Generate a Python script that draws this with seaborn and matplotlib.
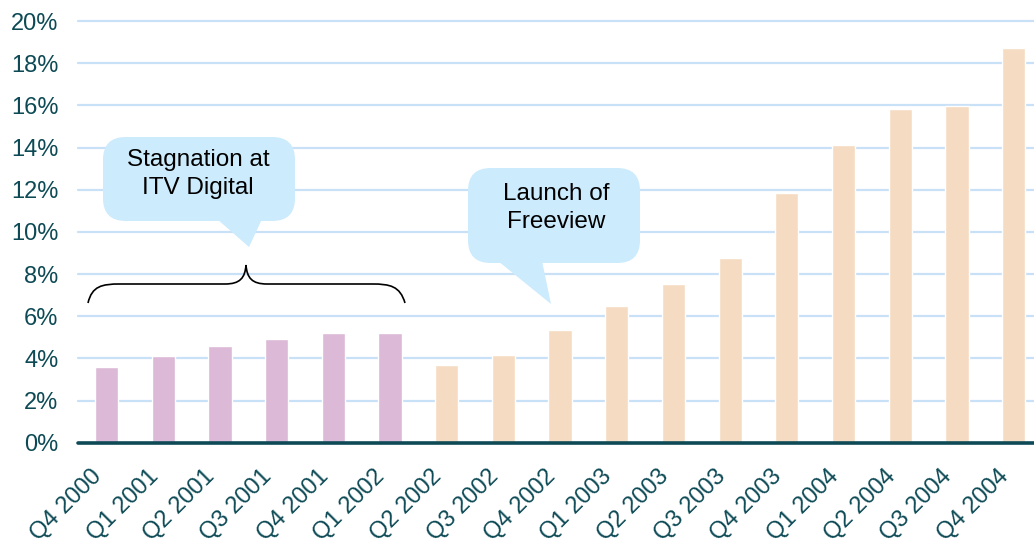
import matplotlib
matplotlib.use("Agg")
import matplotlib.pyplot as plt
import matplotlib.transforms as mtransforms
import seaborn as sns
import pandas as pd
from matplotlib.patches import FancyBboxPatch, Polygon
from matplotlib.path import Path
from matplotlib.patches import PathPatch

quarters = ["Q4 2000", "Q1 2001", "Q2 2001", "Q3 2001", "Q4 2001", "Q1 2002",
            "Q2 2002", "Q3 2002", "Q4 2002", "Q1 2003", "Q2 2003", "Q3 2003",
            "Q4 2003", "Q1 2004", "Q2 2004", "Q3 2004", "Q4 2004"]
share = [3.6, 4.12, 4.6, 4.93, 5.21, 5.2,
         3.7, 4.17, 5.35, 6.5, 7.55, 8.77,
         11.85, 14.1, 15.85, 15.95, 18.7]
period = ["ITV Digital"] * 6 + ["Freeview"] * 11
yticks = [0, 2, 4, 6, 8, 10, 12, 14, 16, 18, 20]

df = pd.DataFrame({"quarter": quarters, "share": share, "period": period})

sns.set_theme(style="white")
plt.rcParams["font.family"] = ["Liberation Sans", "DejaVu Sans"]

W, H = 1034, 550
fig = plt.figure(figsize=(W / 100, H / 100), dpi=100)
ax = fig.add_axes([78 / W, (H - 442.7) / H, (W - 78) / W, (442.7 - 21) / H])

text_col = "#0D4A55"
sns.barplot(data=df, x="quarter", y="share", hue="period",
            palette={"ITV Digital": "#DCB9D7", "Freeview": "#F5DBC2"},
            dodge=False, width=0.41, saturation=1, legend=False, ax=ax, zorder=3)

ax.set_ylim(0, 20)
ax.set_xlim(-0.503, 16.36)
ax.set_yticks(yticks)
ax.set_yticklabels([f"{v}%" for v in yticks])
for v in yticks[1:]:
    ax.axhline(v, color="#C9E1F6", lw=1.6, zorder=1, clip_on=False)
ax.axhline(0, color=text_col, lw=2.6, zorder=4, clip_on=False)

for s in ax.spines.values():
    s.set_visible(False)
ax.set_xlabel("")
ax.set_ylabel("")
ax.tick_params(axis="y", length=0, pad=14, labelsize=17, labelcolor=text_col)
ax.tick_params(axis="x", length=0, pad=8, labelsize=17, labelcolor=text_col)
offset = mtransforms.ScaledTranslation(-16 / 100, -12 / 100, fig.dpi_scale_trans)
for lab in ax.get_xticklabels():
    lab.set_rotation(45)
    lab.set_ha("right")
    lab.set_rotation_mode("anchor")
    lab.set_transform(lab.get_transform() + offset)

# callouts in pixel coordinates
def px(x, y):
    return (x / W, (H - y) / H)

bubble = "#CCEBFC"
def callout(x0, y0, x1, y1, tail, text, tc):
    b = FancyBboxPatch(px(x0, y1), (x1 - x0) / W, (y1 - y0) / H,
                       boxstyle="round,pad=0,rounding_size=0.022",
                       transform=fig.transFigure, fc=bubble, ec="none", zorder=5,
                       mutation_aspect=W / H)
    fig.add_artist(b)
    p = Polygon([px(*pt) for pt in tail], closed=True, transform=fig.transFigure,
                fc=bubble, ec="none", zorder=5)
    fig.add_artist(p)
    fig.text(*px(*tc), text, ha="center", va="center", fontsize=17.5,
             color="black", linespacing=1.3, zorder=6)

callout(103, 137, 295, 221, [(217, 219), (262, 219), (249, 247)],
        "Stagnation at\nITV Digital", (198, 174))
callout(468, 168, 640, 263, [(498, 261), (542, 261), (551, 304)],
        "Launch of\nFreeview", (556, 208))

# curly brace
pts = [(88, 303), (92, 286), (102, 284), (120, 284), (225, 284),
       (240, 284), (245, 278), (246, 265),
       (247, 278), (252, 284), (267, 284),
       (372, 284), (390, 284), (400, 286), (405, 303)]
codes = [Path.MOVETO, Path.CURVE4, Path.CURVE4, Path.CURVE4, Path.LINETO,
         Path.CURVE4, Path.CURVE4, Path.CURVE4,
         Path.CURVE4, Path.CURVE4, Path.CURVE4,
         Path.LINETO, Path.CURVE4, Path.CURVE4, Path.CURVE4]
brace = PathPatch(Path([px(*p) for p in pts], codes), transform=fig.transFigure,
                  fc="none", ec="black", lw=1.2, zorder=6)
fig.add_artist(brace)

fig.savefig("out.png", dpi=100)
